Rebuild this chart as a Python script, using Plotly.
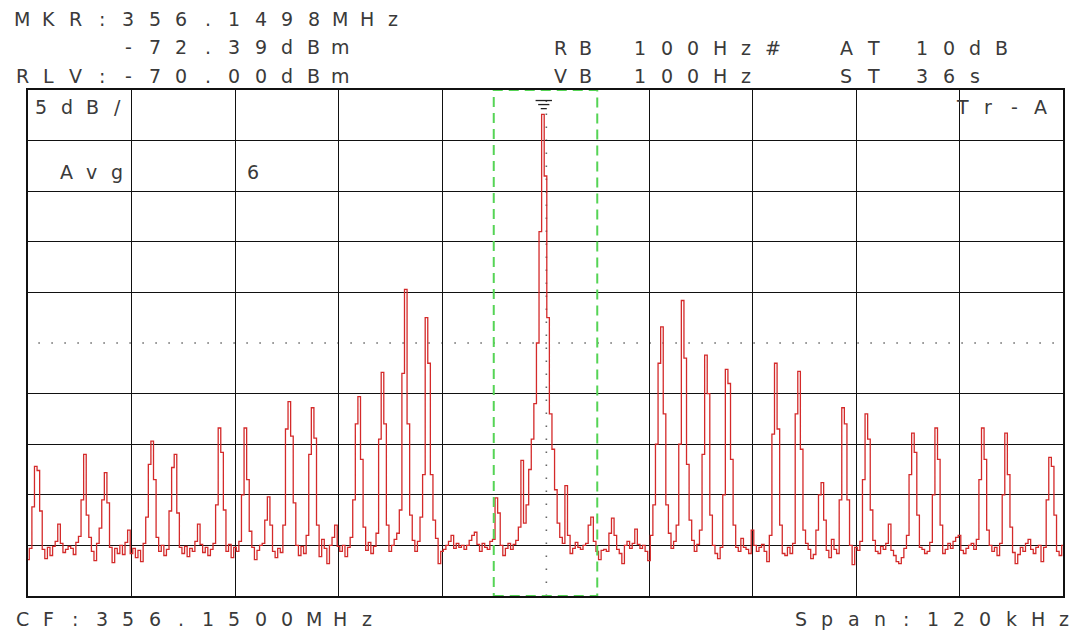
import numpy as np
import plotly.graph_objects as go

center_mhz = 356.1500
span_khz = 120.0
ref_level_dbm = -70.0
db_per_div = 5.0
n_points = 401

marker_mhz = 356.1498
marker_dbm = -72.39

# trace levels, dBm, one per sweep point (401 points, 0.3 kHz apart)
trace_dbm = [
    -116.4, -115.3, -111.2, -107.2, -107.6, -111.6, -115.4, -116.3, -115.2, -116.0,
    -115.1, -114.6, -112.9, -114.8, -115.7, -115.4, -115.1, -115.3, -115.9, -114.7,
    -114.1, -110.5, -106.0, -112.0, -114.2, -115.6, -116.5, -114.8, -113.3, -110.5,
    -107.8, -110.8, -115.2, -116.7, -115.3, -115.8, -115.0, -115.9, -114.7, -113.5,
    -115.8, -115.3, -116.2, -115.5, -116.6, -114.8, -112.2, -107.0, -104.7, -108.5,
    -114.2, -115.6, -115.0, -116.0, -115.4, -111.6, -107.3, -106.0, -111.8, -115.2,
    -115.8, -115.1, -116.1, -115.3, -115.6, -114.6, -112.9, -114.9, -115.7, -115.2,
    -116.0, -115.4, -114.8, -111.0, -103.4, -105.8, -111.5, -115.6, -114.9, -116.2,
    -115.2, -115.6, -114.6, -110.0, -103.4, -108.5, -113.6, -115.2, -116.4, -115.5,
    -115.0, -114.8, -112.5, -110.2, -113.0, -115.6, -116.2, -115.3, -115.7, -113.0,
    -103.5, -100.8, -104.2, -110.8, -115.0, -116.0, -115.1, -115.8, -114.0, -106.0,
    -101.4, -104.4, -113.0, -116.1, -114.4, -115.3, -116.8, -115.0, -114.2, -113.0,
    -115.1, -115.6, -115.0, -116.1, -115.2, -114.2, -110.5, -103.0, -100.3, -106.5,
    -113.2, -115.5, -114.7, -115.8, -115.1, -113.8, -104.5, -97.9, -103.0, -113.0,
    -115.6, -115.0, -114.4, -113.8, -111.5, -98.0, -89.7, -103.0, -112.0, -114.5,
    -115.6, -114.6, -112.2, -108.0, -92.5, -97.0, -108.0, -112.5, -114.3, -116.8,
    -115.6, -115.4, -115.0, -114.6, -114.0, -115.3, -114.8, -115.2, -115.0, -115.4,
    -115.0, -114.5, -114.0, -113.7, -114.9, -115.6, -114.8, -115.2, -115.4, -114.6,
    -114.4, -110.3, -111.8, -115.0, -116.0, -115.3, -114.8, -115.4, -114.9, -114.5,
    -113.2, -106.6, -112.8, -111.0, -107.5, -104.5, -101.0, -95.0, -84.0, -72.4,
    -78.5, -92.5, -102.0, -105.5, -109.5, -112.8, -114.2, -114.8, -109.1, -114.0,
    -115.8, -115.3, -114.7, -115.2, -115.4, -115.0, -114.8, -113.0, -112.2, -114.6,
    -115.6, -116.4, -115.5, -115.4, -115.6, -113.8, -112.3, -114.0, -115.4, -115.8,
    -116.8, -115.0, -114.6, -115.3, -114.8, -113.4, -114.9, -115.3, -115.0, -115.6,
    -116.5, -114.0, -111.0, -105.0, -97.0, -93.4, -102.0, -111.0, -113.8, -115.3,
    -114.6, -113.0, -105.0, -90.8, -96.5, -107.0, -112.5, -114.5, -115.6, -114.9,
    -113.5, -106.0, -96.2, -100.0, -112.0, -115.0, -115.8, -116.3, -115.2, -110.0,
    -97.6, -99.0, -106.5, -113.0, -115.2, -115.6, -114.3, -115.2, -115.4, -115.8,
    -113.5, -115.0, -115.6, -115.2, -114.9, -115.6, -116.6, -114.0, -104.0, -97.0,
    -103.5, -113.0, -115.8, -116.0, -115.2, -115.8, -114.8, -102.0, -97.8, -105.5,
    -113.5, -114.8, -115.4, -116.3, -115.9, -113.5, -110.0, -108.8, -112.5, -115.5,
    -116.2, -114.4, -115.4, -115.8, -110.5, -101.4, -103.0, -110.5, -115.0, -116.9,
    -115.2, -115.5, -114.6, -108.5, -102.0, -104.5, -111.5, -114.5, -115.6, -115.8,
    -115.1, -115.4, -114.8, -112.9, -115.5, -116.0, -116.6, -116.8, -116.2, -115.3,
    -114.0, -108.0, -103.9, -105.8, -112.0, -115.2, -115.4, -115.8, -115.6, -114.7,
    -110.0, -103.4, -106.5, -113.0, -115.8, -115.4, -114.8, -115.3, -114.6, -114.2,
    -114.0, -115.5, -115.8, -115.3, -115.0, -114.8, -115.4, -114.4, -108.5, -103.4,
    -106.5, -113.5, -115.0, -115.6, -115.2, -116.0, -114.8, -110.0, -103.9, -108.0,
    -113.2, -115.7, -116.8, -115.9, -115.2, -115.6, -114.8, -114.4, -115.4, -115.8,
    -115.2, -115.0, -116.6, -115.2, -110.5, -106.3, -107.2, -112.0, -115.6, -116.0,
    -115.0,
]

# screen annotations
header_left = ["MKR:356.1498MHz", "    -72.39dBm", "RLV:-70.00dBm"]
header_right = [("RB", "100Hz#", "AT", "10dB"), ("VB", "100Hz", "ST", "36s")]
scale_label = "5dB/"
avg_label = "Avg"
avg_count = "6"
trace_label = "Tr-A"
footer_left = "CF:356.1500MHz"
footer_right = "Span:120kHz"

# ---------------- geometry ----------------
W, H = 1084, 631
L, R, T, B = 28, 21, 90, 35
PW, PH = W - L - R, H - T - B

half = span_khz / 2
bottom_dbm = ref_level_dbm - 10 * db_per_div
freq_khz = np.linspace(-half, half, n_points)   # sweep points
mkr_khz = (marker_mhz - center_mhz) * 1000.0

fig = go.Figure()
fig.add_trace(go.Scatter(
    x=freq_khz, y=trace_dbm, mode="lines", line_shape="hvh",
    line=dict(color="#d42a2a", width=1.3), hoverinfo="skip", showlegend=False,
))

grid_x = [-half + 12 * k for k in range(1, 10) if k != 5]
grid_y = [ref_level_dbm - db_per_div * k for k in range(1, 10) if k != 5]

fig.update_xaxes(range=[-half, half], tickvals=grid_x, showticklabels=False,
                 showgrid=True, gridcolor="#111111", gridwidth=1.3, zeroline=False,
                 showline=True, mirror=True, linecolor="#111111", linewidth=1.5,
                 ticks="")
fig.update_yaxes(range=[bottom_dbm, ref_level_dbm], tickvals=grid_y, showticklabels=False,
                 showgrid=True, gridcolor="#111111", gridwidth=1.3, zeroline=False,
                 showline=True, mirror=True, linecolor="#111111", linewidth=1.5,
                 ticks="")

shapes = []
# dotted centre lines
shapes.append(dict(type="line", xref="x", yref="y", x0=-half + 1.2, x1=half - 1.0,
                   y0=ref_level_dbm - 5 * db_per_div, y1=ref_level_dbm - 5 * db_per_div,
                   line=dict(color="#666666", width=1.6, dash="1.5px,11.5px"), layer="below"))
shapes.append(dict(type="line", xref="x", yref="y", x0=0.1, x1=0.1,
                   y0=bottom_dbm, y1=ref_level_dbm,
                   line=dict(color="#666666", width=1.6, dash="1.5px,11.5px"), layer="below"))
# green dashed window (one division wide)
shapes.append(dict(type="rect", xref="x", yref="y", x0=-6, x1=6,
                   y0=bottom_dbm, y1=ref_level_dbm,
                   line=dict(color="#55d455", width=2, dash="10px,6px"), layer="above"))
# marker symbol (stacked bars above the peak)
for dy, hw in [(1.35, 0.95), (0.95, 0.65), (0.55, 0.35)]:
    shapes.append(dict(type="line", xref="x", yref="y",
                       x0=mkr_khz - hw, x1=mkr_khz + hw,
                       y0=marker_dbm + dy, y1=marker_dbm + dy,
                       line=dict(color="#222222", width=1.3)))

annotations = []
FONT = dict(family="DejaVu Sans", size=19, color="#3a3a3a")


def put_text(s, cx0, cy, pitch=26.5):
    for k, ch in enumerate(s):
        if ch == " ":
            continue
        annotations.append(dict(
            text=ch, x=(cx0 + k * pitch - L) / PW, y=(H - B - cy) / PH,
            xref="paper", yref="paper", xanchor="center", yanchor="middle",
            showarrow=False, font=FONT))


put_text(header_left[0], 22, 18.5)
put_text(header_left[1], 22, 47.5)
put_text(header_left[2], 22, 75.5)
for row, cy in zip(header_right, [48, 76]):
    put_text(row[0], 560, cy, 25)
    put_text(row[1], 640, cy)
    put_text(row[2], 846, cy, 27)
    put_text(row[3], 922, cy)
put_text(scale_label, 41, 107, 25.5)
put_text(avg_label, 66, 172, 25.5)
put_text(avg_count, 253, 172)
put_text(trace_label, 962, 107, 26)
put_text(footer_left, 22, 619)
put_text(footer_right, 801, 619, 26.3)

fig.update_layout(
    width=W, height=H, margin=dict(l=L, r=R, t=T, b=B, pad=0),
    paper_bgcolor="white", plot_bgcolor="white",
    shapes=shapes, annotations=annotations, showlegend=False,
)

fig.write_html("out.html", config={"displayModeBar": False},
               post_script="document.body.style.margin='0';")
